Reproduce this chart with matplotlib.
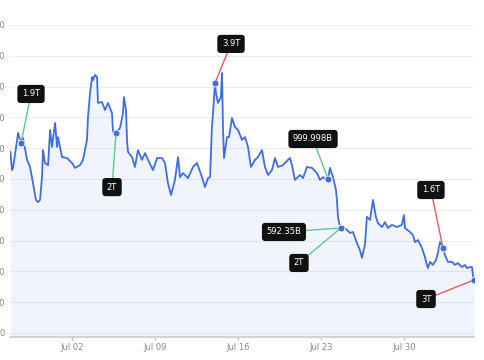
import numpy as np
import pandas as pd
import matplotlib
matplotlib.use("Agg")
import matplotlib.pyplot as plt
import matplotlib.dates as mdates

# days relative to 2024-07-02 and the traced values
days = [-5.2, -5.06, -4.97, -4.55, -4.30, -4.13, -3.79, -3.54, -3.29, -3.04, -2.87, -2.70,
        -2.53, -2.45, -2.28, -2.02, -1.85, -1.69, -1.43, -1.26, -1.18, -0.84, -0.42, 0.0,
        0.25, 0.67, 0.93, 1.26, 1.35, 1.52, 1.69, 1.77, 1.94, 2.11, 2.19, 2.53, 2.78, 3.04,
        3.37, 3.46, 3.71, 4.05, 4.30, 4.38, 4.55, 4.64, 4.72, 5.06, 5.31, 5.56, 5.90, 6.16,
        6.41, 6.83, 7.17, 7.59, 7.84, 8.09, 8.35, 8.68, 8.94, 9.11, 9.36, 9.78, 10.20, 10.54,
        10.96, 11.21, 11.47, 11.64, 11.80, 11.89, 12.06, 12.14, 12.31, 12.56, 12.65, 12.73,
        12.82, 13.07, 13.24, 13.49, 13.74, 14.00, 14.33, 14.59, 14.84, 15.09, 15.43, 15.68,
        16.02, 16.27, 16.53, 16.86, 17.12, 17.37, 17.79, 18.21, 18.38, 18.55, 18.80, 19.22,
        19.48, 19.81, 20.24, 20.66, 20.91, 21.16, 21.50, 21.59, 21.75, 22.01, 22.26, 22.34,
        22.43, 22.60, 22.68, 23.02, 23.44, 23.69, 24.03, 24.28, 24.45, 24.70, 24.87, 25.13,
        25.38, 25.63, 25.80, 26.14, 26.39, 26.64, 26.98, 27.40, 27.82, 27.99, 28.08, 28.50,
        28.75, 28.92, 29.17, 29.51, 29.76, 29.93, 30.02, 30.19, 30.44, 30.69, 30.86, 31.03,
        31.28, 31.45, 31.70, 32.04, 32.29, 32.55, 32.88, 33.14, 33.31, 33.56, 33.73, 33.81,
        33.90]
values = [58.8, 52.9, 53.6, 64.9, 61.7, 63.3, 56.2, 53.9, 48.7, 43.2, 42.5, 43.2,
          50.6, 59.4, 55.2, 54.5, 65.9, 60.4, 68.2, 60.4, 63.6, 57.1, 56.8, 55.2,
          53.6, 54.5, 56.2, 62.7, 70.1, 77.9, 83.1, 82.1, 83.8, 83.1, 74.7, 75.0, 72.4, 74.7,
          71.4, 65.3, 64.9, 66.6, 71.4, 76.6, 72.4, 62.7, 58.8, 57.1, 53.9, 59.4, 56.2, 58.4,
          56.2, 52.9, 56.8, 56.8, 55.2, 48.7, 44.8, 49.7, 57.1, 50.6, 51.9, 50.3, 53.9, 55.2,
          50.6, 47.4, 50.3, 50.6, 66.9, 71.4, 81.2, 77.9, 74.7, 76.6, 84.4, 66.9,
          56.8, 63.6, 63.6, 69.8, 66.9, 65.9, 62.7, 63.6, 60.4, 53.9, 56.2, 57.1,
          59.4, 53.9, 51.3, 52.9, 56.8, 53.9, 54.5, 56.2, 56.8, 54.5, 49.7, 51.3,
          50.3, 53.9, 53.6, 51.9, 49.7, 50.6, 49.7, 50.0, 53.6, 50.6, 46.4, 43.2,
          37.7, 34.4, 34.1, 34.1, 32.5, 32.8, 29.2, 26.9, 24.4, 28.6, 37.7, 36.7,
          43.2, 37.7, 35.7, 34.4, 36.0, 34.1, 35.1, 34.4, 35.1, 38.3, 34.1, 32.8,
          31.8, 29.5, 30.2, 27.6, 24.7, 22.1, 21.1, 23.1, 22.1, 23.7, 26.0, 29.5,
          27.6, 25.3, 23.1, 23.1, 22.1, 22.7, 21.4, 22.1, 21.1, 21.4, 21.4, 18.8,
          17.2]

# annotated points: index into the series, label, line colour, box offset in pixels
note_idx = [4, 40, 72, 109, 116, 116, 150, 162]
note_text = ["1.9T", "2T", "3.9T", "999.998B", "592.35B", "2T", "1.6T", "3T"]
note_color = ["#5cc98a", "#5cc98a", "#e65c5c", "#5cc98a", "#5cc98a", "#5cc98a", "#e65c5c", "#e65c5c"]
note_off = [(10, 49), (-4, -54), (16, 39), (-15, 40), (-57, -4), (-42, -35), (-12, 58), (-48, -19)]

tick_days = ["2024-07-02", "2024-07-09", "2024-07-16", "2024-07-23", "2024-07-30"]

start = pd.Timestamp("2024-07-02")
dates = start + pd.to_timedelta(days, unit="D")

fig = plt.figure(figsize=(4.85, 3.6), dpi=100)
ax = fig.add_axes([10 / 485, 23 / 360, 464 / 485, 312 / 360])

line_c = "#3f6ee0"
ax.fill_between(dates, values, -1.3, color=line_c, alpha=0.07, lw=0)
ax.plot(dates, values, color=line_c, lw=1.3, zorder=3)

for i, t, c, off in zip(note_idx, note_text, note_color, note_off):
    ax.plot(dates[i], values[i], "o", color=line_c, ms=5, mec="white", mew=0.6, zorder=4)
    ax.annotate(t, xy=(dates[i], values[i]), xytext=off, textcoords="offset pixels",
                ha="center", va="center", color="white", fontsize=6, zorder=5,
                bbox=dict(boxstyle="round,pad=0.55,rounding_size=0.4", fc="#111111", ec="none"),
                arrowprops=dict(arrowstyle="-", color=c, lw=1.0, shrinkA=0, shrinkB=2))

ax.set_xlim(start + pd.Timedelta(days=-5.23), start + pd.Timedelta(days=33.9))
ax.set_ylim(-1.3, 100)
ax.set_yticks(np.arange(0, 101, 10))
ax.set_yticklabels([str(v) for v in range(0, 101, 10)])
ax.grid(axis="y", color="#eeeeee", lw=0.8)
ax.set_axisbelow(True)
ax.set_xticks(pd.to_datetime(tick_days))
ax.xaxis.set_major_formatter(mdates.DateFormatter("%b %d"))

for s in ["top", "right", "left"]:
    ax.spines[s].set_visible(False)
ax.spines["bottom"].set_color("#cccccc")
ax.spines["bottom"].set_linewidth(1.2)
ax.tick_params(axis="y", length=0, pad=3.6, labelsize=6, labelcolor="#888888")
ax.tick_params(axis="x", length=2.5, color="#bbbbbb", pad=2, labelsize=6, labelcolor="#888888")

fig.savefig("out.png", dpi=100)
